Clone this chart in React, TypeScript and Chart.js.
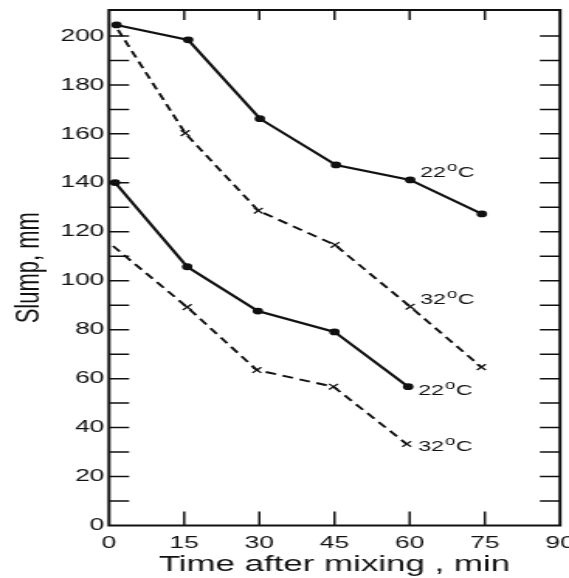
import React, { useEffect, useRef } from "react";
import { Chart, registerables } from "chart.js";

Chart.register(...registerables);

// ---- data (time in min, slump in mm) ----
const upper22X = [1.5, 15.8, 30.1, 45.3, 60.1, 74.4];
const upper22Y = [204.5, 198.4, 166.2, 147.3, 141.2, 127.3];
const upper32X = [1.8, 15.2, 29.8, 45.1, 60.1, 74.3];
const upper32Y = [202.5, 160.3, 128.6, 114.6, 89.4, 64.7];
const lower22X = [1.2, 15.6, 29.7, 45.0, 59.7];
const lower22Y = [140.1, 105.7, 87.6, 79.1, 56.7];
const lower32X = [0.8, 15.6, 29.5, 44.8, 59.4];
const lower32Y = [114.2, 89.2, 63.5, 56.7, 33.3];

// curve labels
const labelNums = ["22", "32", "22", "32"];
const labelX = [62.1, 62.1, 61.7, 61.7];
const labelY = [144.4, 92.5, 55.4, 32.5];

// axis ticks
const xTickMarks = [15, 30, 45, 60, 75];
const yTickMarks = [10, 20, 30, 40, 50, 60, 70, 80, 90, 100, 110, 120, 130, 140, 150, 160, 170, 180, 190, 200];

const xTitle = "Time after mixing , min";
const yTitle = "Slump, mm";

const CANVAS_W = 367;
const CANVAS_H = 578;
const STRETCH = 569 / CANVAS_W;
const INK = "#111";
const FONT = "'Liberation Sans', Arial, Helvetica, sans-serif";

const pts = (xs: number[], ys: number[]) => xs.map((x, i) => ({ x, y: ys[i] }));

const framePlugin = {
  id: "frameTicks",
  afterDatasetsDraw(chart: any) {
    const { ctx, chartArea: a, scales } = chart;
    const x = scales.x;
    const y = scales.y;
    ctx.save();
    ctx.strokeStyle = INK;
    ctx.lineWidth = 1.5;
    ctx.beginPath();
    for (const v of yTickMarks) {
      const py = y.getPixelForValue(v);
      ctx.moveTo(a.left, py);
      ctx.lineTo(a.left + 13, py);
      ctx.moveTo(a.right, py);
      ctx.lineTo(a.right - 13, py);
    }
    for (const v of xTickMarks) {
      const px = x.getPixelForValue(v);
      ctx.moveTo(px, a.bottom);
      ctx.lineTo(px, a.bottom - 14);
      ctx.moveTo(px, a.top);
      ctx.lineTo(px, a.top + 10);
    }
    ctx.stroke();
    ctx.lineWidth = 2;
    ctx.strokeRect(a.left, a.top, a.right - a.left, a.bottom - a.top);

    // curve labels: "22", superscript "o", "C"
    ctx.fillStyle = INK;
    ctx.textBaseline = "alphabetic";
    ctx.textAlign = "left";
    labelNums.forEach((num, i) => {
      let px = x.getPixelForValue(labelX[i]);
      const base = y.getPixelForValue(labelY[i]) + 5.4;
      ctx.font = `15px ${FONT}`;
      ctx.fillText(num, px, base);
      px += ctx.measureText(num).width + 0.5;
      ctx.font = `12px ${FONT}`;
      ctx.fillText("o", px, base - 6.5);
      px += ctx.measureText("o").width + 0.3;
      ctx.font = `15px ${FONT}`;
      ctx.fillText("C", px, base);
    });
    ctx.restore();
  },
};

export default function App() {
  const ref = useRef<HTMLCanvasElement | null>(null);

  useEffect(() => {
    if (!ref.current) return;
    const solid = (xs: number[], ys: number[]) => ({
      data: pts(xs, ys),
      borderColor: INK,
      backgroundColor: INK,
      borderWidth: 2.2,
      pointStyle: "circle",
      pointRadius: 3.4,
      pointBorderWidth: 0,
      tension: 0,
    });
    const dashed = (xs: number[], ys: number[]) => ({
      data: pts(xs, ys),
      borderColor: INK,
      backgroundColor: INK,
      borderWidth: 1.9,
      borderDash: [7, 4.5],
      pointStyle: "crossRot",
      pointRadius: xs.map((_, i) => (i === 0 ? 0 : 4)),
      pointBorderWidth: 1.3,
      pointBorderColor: INK,
      tension: 0,
    });
    const chart = new Chart(ref.current, {
      type: "line",
      data: {
        datasets: [
          solid(upper22X, upper22Y),
          dashed(upper32X, upper32Y),
          solid(lower22X, lower22Y),
          dashed(lower32X, lower32Y),
        ] as any,
      },
      options: {
        responsive: false,
        devicePixelRatio: 1,
        animation: false,
        layout: { padding: { top: 10, right: CANVAS_W - 560 / STRETCH, left: 0, bottom: 0 } },
        plugins: { legend: { display: false }, tooltip: { enabled: false } },
        scales: {
          x: {
            type: "linear",
            min: 0,
            max: 90,
            grid: { display: false, drawTicks: false },
            border: { display: false },
            ticks: {
              stepSize: 15,
              padding: 8,
              autoSkip: false,
              maxRotation: 0,
              color: INK,
              font: { family: FONT, size: 17 },
            },
            title: {
              display: true,
              text: xTitle,
              color: INK,
              font: { family: FONT, size: 22.5 },
              padding: { top: 0, bottom: 0 },
            },
            afterFit: (s: any) => {
              s.height = CANVAS_H - 525.5;
              s.paddingLeft = 0;
              s.paddingRight = 0;
            },
          },
          y: {
            type: "linear",
            min: 0,
            max: 210.6,
            grid: { display: false, drawTicks: false },
            border: { display: false },
            ticks: {
              stepSize: 20,
              includeBounds: false,
              padding: 3,
              color: INK,
              font: { family: FONT, size: 17 },
            },
            title: {
              display: true,
              text: yTitle,
              color: INK,
              font: { family: FONT, size: 22 },
              padding: { top: 5.5, bottom: 0 },
            },
            afterFit: (s: any) => {
              s.width = 109 / STRETCH;
              s.paddingTop = 0;
              s.paddingBottom = 0;
            },
          },
        },
      } as any,
      plugins: [framePlugin],
    });
    return () => chart.destroy();
  }, []);

  return (
    <div
      style={{
        position: "fixed",
        left: 0,
        top: 0,
        width: 569,
        height: 578,
        overflow: "hidden",
        background: "#fff",
      }}
    >
      <canvas
        ref={ref}
        width={CANVAS_W}
        height={CANVAS_H}
        style={{
          display: "block",
          width: `${CANVAS_W}px`,
          height: `${CANVAS_H}px`,
          transformOrigin: "0 0",
          transform: `scaleX(${STRETCH})`,
        }}
      />
    </div>
  );
}
